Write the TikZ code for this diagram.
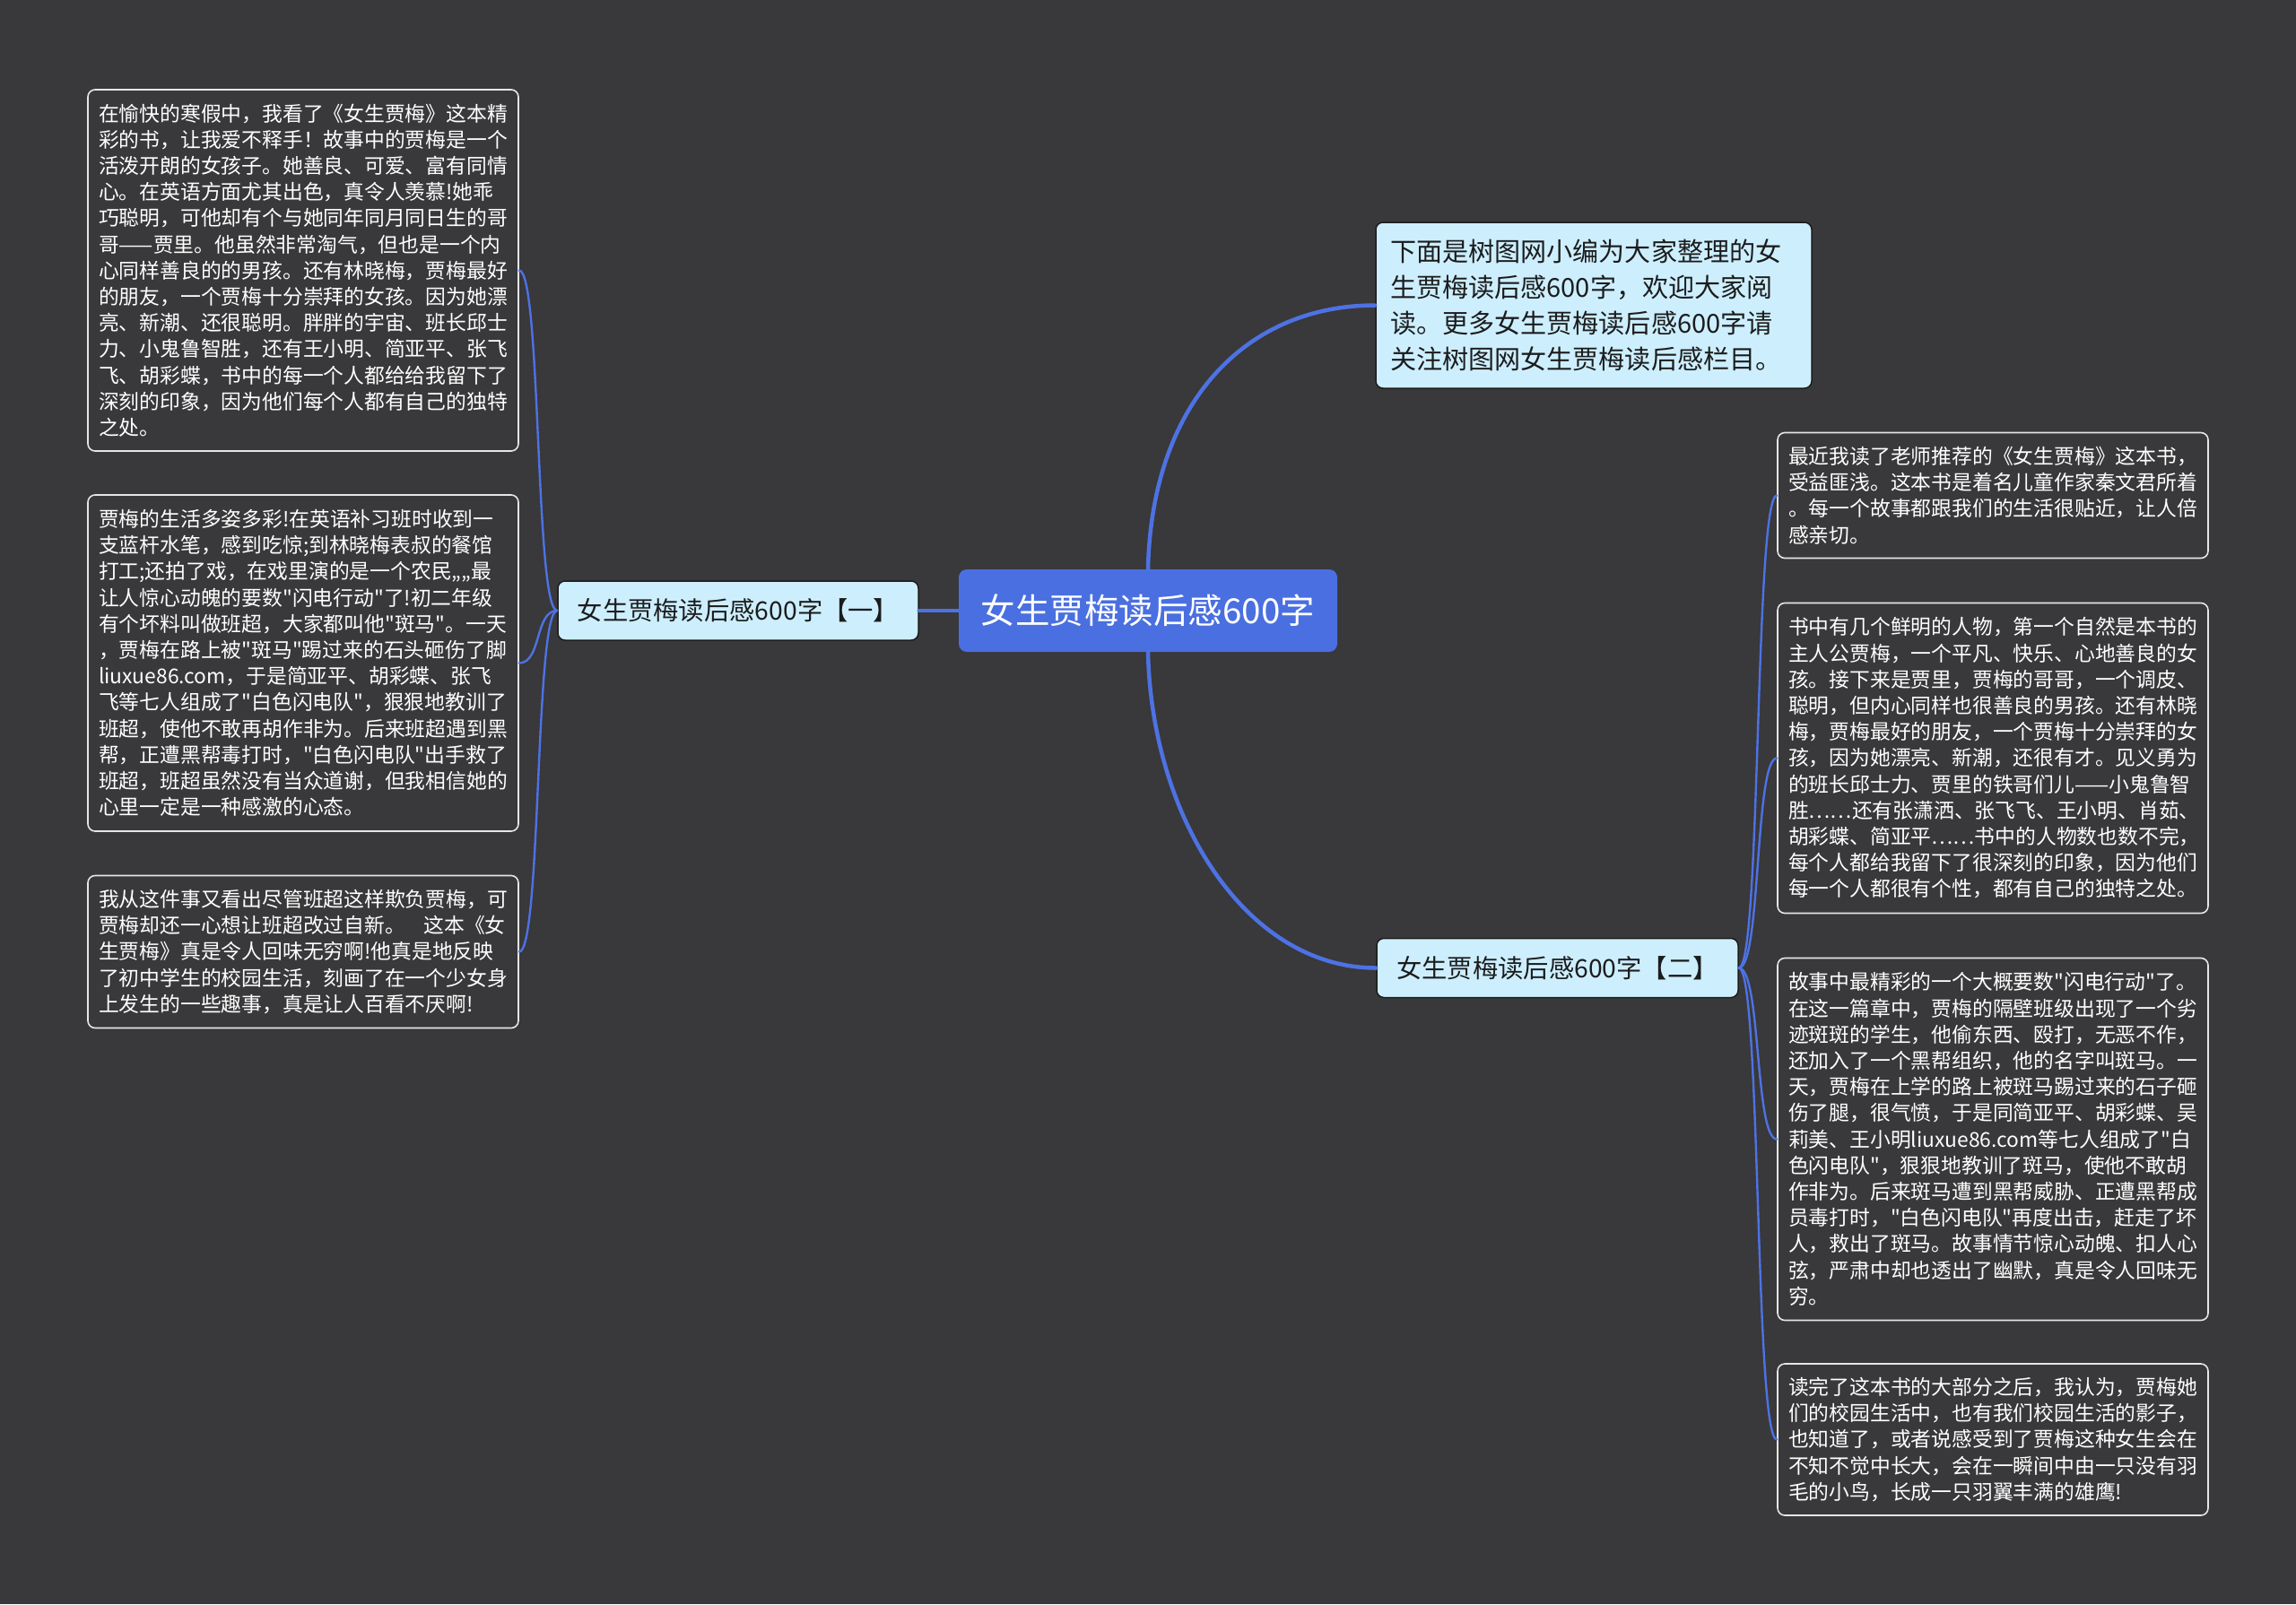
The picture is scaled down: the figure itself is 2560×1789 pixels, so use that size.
\documentclass[tikz,border=0pt]{standalone}
\usepackage{fontspec}
\newfontfamily\cjk{Noto Sans CJK SC}
\definecolor{mapBg}{HTML}{39383A}
\definecolor{mapBlue}{HTML}{4A6FE0}
\definecolor{mapLine}{HTML}{4D72E3}
\definecolor{mapSky}{HTML}{CDEFFD}
\definecolor{mapInk}{HTML}{1C1C1E}
\definecolor{mapEdge}{HTML}{E6E6E6}
\begin{document}
\begin{tikzpicture}[x=1pt,y=-1pt,line cap=round,line join=round]
\path[fill=mapBg] (0,0) rectangle (2560,1789);
\tikzset{root/.style={fill=mapBlue,text=white,rounded corners=9pt,minimum width=422pt,minimum height=92pt,font=\cjk\fontsize{38.5}{46}\selectfont},topic/.style={draw=mapInk,fill=mapSky,text=mapInk,line width=1.5pt,rounded corners=8pt,minimum height=66pt,font=\cjk\fontsize{28.3}{34}\selectfont},leaf/.style={draw=mapEdge,fill=mapBg,text=white,line width=1.6pt,rounded corners=8pt,inner xsep=12pt,text width=456pt,align=left,font=\cjk\fontsize{22.8}{29.2}\selectfont},link/.style={draw=mapLine,line width=4.5pt},twig/.style={draw=mapLine,line width=2.4pt}}
\node[root] (c) at (1280,681) {女生贾梅读后感600字};
\node[topic,minimum width=402pt] (b1) at (823,681) {女生贾梅读后感600字【一】};
\node[topic,minimum width=403pt] (b2) at (1736.5,1079.5) {女生贾梅读后感600字【二】};
\node[topic,inner xsep=16pt,text width=454pt,align=left,minimum height=185pt,font=\cjk\fontsize{29.1}{40}\selectfont] (t) at (1777,340.5) {下面是树图网小编为大家整理的女\\
生贾梅读后感600字，欢迎大家阅\\
读。更多女生贾梅读后感600字请\\
关注树图网女生贾梅读后感栏目。};
\node[leaf,minimum height=403pt] (l1) at (338,301.5) {在愉快的寒假中，我看了《女生贾梅》这本精\\
彩的书，让我爱不释手！故事中的贾梅是一个\\
活泼开朗的女孩子。她善良、可爱、富有同情\\
心。在英语方面尤其出色，真令人羡慕!她乖\\
巧聪明，可他却有个与她同年同月同日生的哥\\
哥——贾里。他虽然非常淘气，但也是一个内\\
心同样善良的的男孩。还有林晓梅，贾梅最好\\
的朋友，一个贾梅十分崇拜的女孩。因为她漂\\
亮、新潮、还很聪明。胖胖的宇宙、班长邱士\\
力、小鬼鲁智胜，还有王小明、简亚平、张飞\\
飞、胡彩蝶，书中的每一个人都给给我留下了\\
深刻的印象，因为他们每个人都有自己的独特\\
之处。};
\node[leaf,minimum height=375pt] (l2) at (338,739.5) {贾梅的生活多姿多彩!在英语补习班时收到一\\
支蓝杆水笔，感到吃惊;到林晓梅表叔的餐馆\\
打工;还拍了戏，在戏里演的是一个农民„„最\\
让人惊心动魄的要数"闪电行动"了!初二年级\\
有个坏料叫做班超，大家都叫他"斑马"。一天\\
，贾梅在路上被"斑马"踢过来的石头砸伤了脚\\
liuxue86.com，于是简亚平、胡彩蝶、张飞\\
飞等七人组成了"白色闪电队"，狠狠地教训了\\
班超，使他不敢再胡作非为。后来班超遇到黑\\
帮，正遭黑帮毒打时，"白色闪电队"出手救了\\
班超，班超虽然没有当众道谢，但我相信她的\\
心里一定是一种感激的心态。};
\node[leaf,minimum height=170pt] (l3) at (338,1061.5) {我从这件事又看出尽管班超这样欺负贾梅，可\\
贾梅却还一心想让班超改过自新。\hspace{0.9em}这本《女\\
生贾梅》真是令人回味无穷啊!他真是地反映\\
了初中学生的校园生活，刻画了在一个少女身\\
上发生的一些趣事，真是让人百看不厌啊!};
\node[leaf,minimum height=140pt] (r1) at (2222,552.5) {最近我读了老师推荐的《女生贾梅》这本书，\\
受益匪浅。这本书是着名儿童作家秦文君所着\\
。每一个故事都跟我们的生活很贴近，让人倍\\
感亲切。};
\node[leaf,minimum height=346pt] (r2) at (2222,845.5) {书中有几个鲜明的人物，第一个自然是本书的\\
主人公贾梅，一个平凡、快乐、心地善良的女\\
孩。接下来是贾里，贾梅的哥哥，一个调皮、\\
聪明，但内心同样也很善良的男孩。还有林晓\\
梅，贾梅最好的朋友，一个贾梅十分崇拜的女\\
孩，因为她漂亮、新潮，还很有才。见义勇为\\
的班长邱士力、贾里的铁哥们儿——小鬼鲁智\\
胜……还有张潇洒、张飞飞、王小明、肖茹、\\
胡彩蝶、简亚平……书中的人物数也数不完，\\
每个人都给我留下了很深刻的印象，因为他们\\
每一个人都很有个性，都有自己的独特之处。};
\node[leaf,minimum height=404pt] (r3) at (2222,1270.5) {故事中最精彩的一个大概要数"闪电行动"了。\\
在这一篇章中，贾梅的隔壁班级出现了一个劣\\
迹斑斑的学生，他偷东西、殴打，无恶不作，\\
还加入了一个黑帮组织，他的名字叫斑马。一\\
天，贾梅在上学的路上被斑马踢过来的石子砸\\
伤了腿，很气愤，于是同简亚平、胡彩蝶、吴\\
莉美、王小明liuxue86.com等七人组成了"白\\
色闪电队"，狠狠地教训了斑马，使他不敢胡\\
作非为。后来斑马遭到黑帮威胁、正遭黑帮成\\
员毒打时，"白色闪电队"再度出击，赶走了坏\\
人，救出了斑马。故事情节惊心动魄、扣人心\\
弦，严肃中却也透出了幽默，真是令人回味无\\
穷。};
\node[leaf,minimum height=169pt] (r4) at (2222,1605.5) {读完了这本书的大部分之后，我认为，贾梅她\\
们的校园生活中，也有我们校园生活的影子，\\
也知道了，或者说感受到了贾梅这种女生会在\\
不知不觉中长大，会在一瞬间中由一只没有羽\\
毛的小鸟，长成一只羽翼丰满的雄鹰!};
\draw[link] (c.west) -- (b1.east);
\draw[link] (c.north) .. controls +(4,-185) and +(-145,0) .. (t.west);
\draw[link] (c.south) .. controls +(4,185) and +(-145,0) .. (b2.west);
\foreach \leafname in {l1,l2,l3}
  \draw[twig] (b1.west) .. controls +(-25,0) and +(25,0) .. (\leafname.east);
\foreach \leafname in {r1,r2,r3,r4}
  \draw[twig] (b2.east) .. controls +(25,0) and +(-25,0) .. (\leafname.west);
\end{tikzpicture}
\end{document}
